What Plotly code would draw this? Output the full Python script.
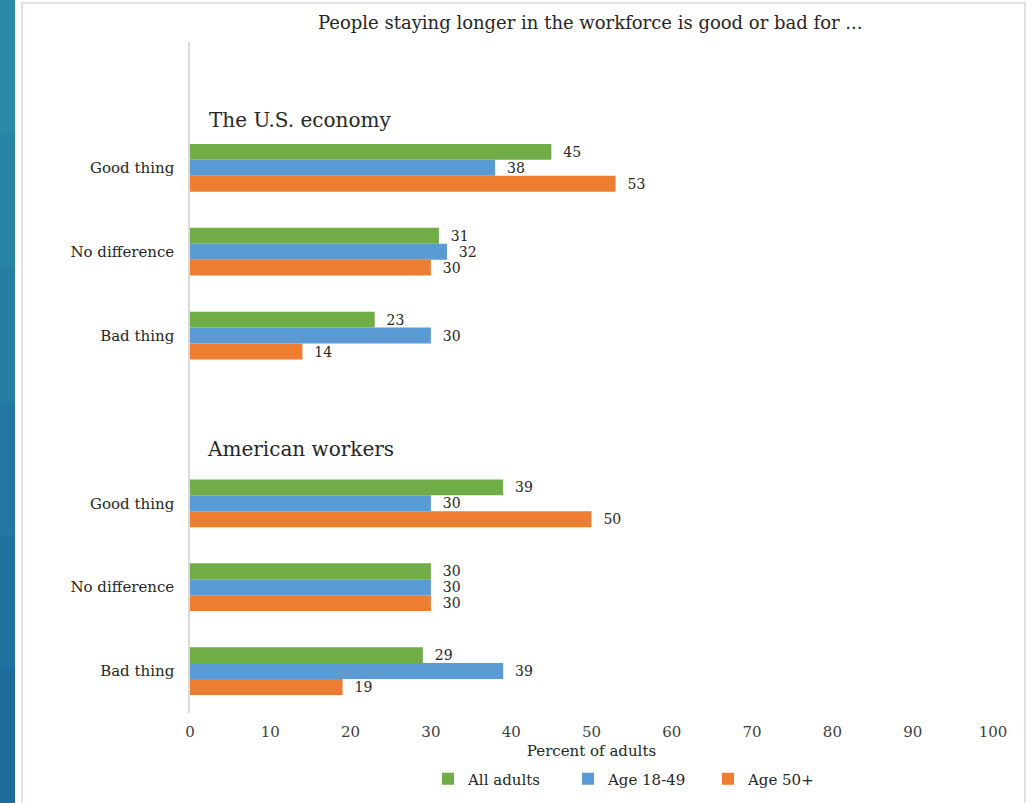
import plotly.graph_objects as go

# ---- data ----
slots = ["hdr_us", "us_good", "us_nodiff", "us_bad", "gap", "aw_good", "aw_nodiff", "aw_bad"]
slot_labels = ["", "Good thing", "No difference", "Bad thing", "", "Good thing", "No difference", "Bad thing"]
series_names = ["All adults", "Age 18-49", "Age 50+"]
all_adults = [None, 45, 31, 23, None, 39, 30, 29]
age_18_49 = [None, 38, 32, 30, None, 30, 30, 39]
age_50_plus = [None, 53, 30, 14, None, 50, 30, 19]
group_headers = ["The U.S. economy", "American workers"]
x_ticks = [0, 10, 20, 30, 40, 50, 60, 70, 80, 90, 100]
chart_title = "People staying longer in the workforce is good or bad for ..."
x_title = "Percent of adults"

colors = ["#70ad47", "#5b9bd5", "#ed7d31"]
FONT = "DejaVu Serif"
TXT = "#262626"

W, H = 1033, 803
L, R, T, B = 190, 40, 42, 90
pw, ph = W - L - R, H - T - B


def px_x(x):
    return (x - L) / pw


def px_y(y):
    return (H - B - y) / ph


fig = go.Figure()
for name, vals, col in zip(series_names, [all_adults, age_18_49, age_50_plus], colors):
    fig.add_trace(go.Bar(
        y=slots, x=vals, name=name, orientation="h",
        marker=dict(color=col, line=dict(width=0)),
        text=[None if v is None else f"\u00a0\u00a0{v}" for v in vals],
        textposition="outside", cliponaxis=False, constraintext="none",
        textfont=dict(family=FONT, size=14, color=TXT),
    ))

fig.update_layout(
    width=W, height=H,
    margin=dict(l=L, r=R, t=T, b=B, autoexpand=False),
    paper_bgcolor="white", plot_bgcolor="white",
    barmode="group", bargap=0.43, bargroupgap=0,
    font=dict(family=FONT, color=TXT),
    showlegend=True,
    legend=dict(orientation="h", x=px_x(428), xanchor="left", y=px_y(779), yanchor="middle",
                font=dict(family=FONT, size=15, color=TXT), traceorder="normal",
                itemwidth=30, entrywidth=95, entrywidthmode="pixels"),
    xaxis=dict(range=[0, 100], tickvals=x_ticks, showgrid=False, zeroline=False,
               showline=False, ticks="", ticklabelstandoff=8,
               tickfont=dict(family=FONT, size=15, color="#404040"),
               title=dict(text=x_title, font=dict(family=FONT, size=15, color=TXT), standoff=5)),
    yaxis=dict(categoryorder="array", categoryarray=slots, autorange="reversed",
               tickvals=slots, ticktext=slot_labels, showgrid=False, zeroline=False,
               showline=True, linecolor="#d9d9d9", linewidth=1.5, ticks="",
               ticklabelstandoff=11,
               tickfont=dict(family=FONT, size=15, color=TXT)),
)

# chart title
fig.add_annotation(text=chart_title, xref="paper", yref="paper", x=px_x(316), y=px_y(23),
                   xanchor="left", yanchor="middle", showarrow=False,
                   font=dict(family=FONT, size=18, color=TXT))
# group headers
for hdr, xp, yp in zip(group_headers, [207, 205], [120, 449]):
    fig.add_annotation(text=hdr, xref="paper", yref="paper", x=px_x(xp), y=px_y(yp),
                       xanchor="left", yanchor="middle", showarrow=False,
                       font=dict(family=FONT, size=20, color=TXT))

# page frame and left strip
fig.add_shape(type="rect", xref="paper", yref="paper", x0=px_x(22), x1=px_x(1025),
              y0=px_y(820), y1=px_y(3), line=dict(color="#d9d9d9", width=1.5),
              fillcolor="rgba(0,0,0,0)", layer="below")
strip_cols = ["#2b8aaa", "#2884a7", "#257ea4", "#2278a1", "#1f729e", "#1d6c9b"]
n = len(strip_cols)
for i, c in enumerate(strip_cols):
    fig.add_shape(type="rect", xref="paper", yref="paper", x0=px_x(0), x1=px_x(15),
                  y0=px_y(H * (i + 1) / n + 3), y1=px_y(H * i / n),
                  line=dict(width=0), fillcolor=c, layer="below")

fig.write_html("out.html")
